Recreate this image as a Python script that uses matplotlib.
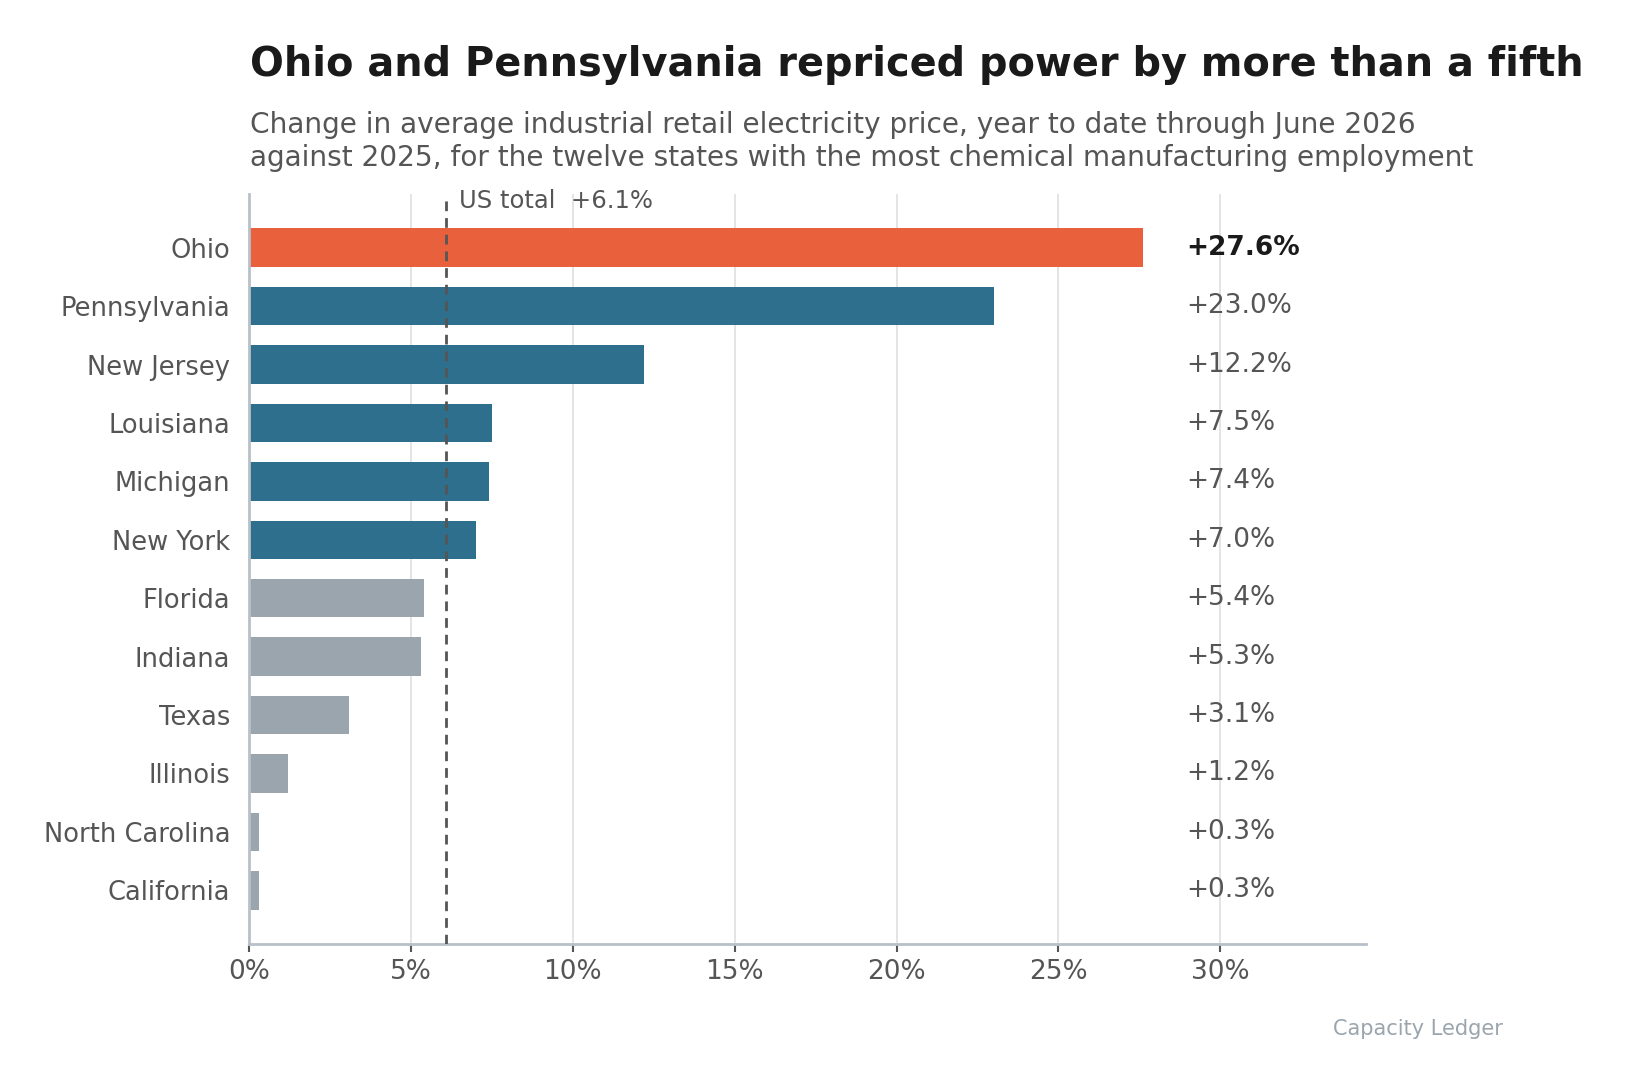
import matplotlib
matplotlib.use("Agg")
import matplotlib.pyplot as plt
from matplotlib.ticker import FuncFormatter

states = ["Ohio", "Pennsylvania", "New Jersey", "Louisiana", "Michigan", "New York",
          "Florida", "Indiana", "Texas", "Illinois", "North Carolina", "California"]
changes = [27.6, 23.0, 12.2, 7.5, 7.4, 7.0, 5.4, 5.3, 3.1, 1.2, 0.3, 0.3]
groups = ["top", "pjm", "pjm", "pjm", "pjm", "pjm",
          "other", "other", "other", "other", "other", "other"]
us_total = 6.1
x_ticks = [0, 5, 10, 15, 20, 25, 30]

title = "Ohio and Pennsylvania repriced power by more than a fifth"
subtitle_lines = ["Change in average industrial retail electricity price, year to date through June 2026",
                  "against 2025, for the twelve states with the most chemical manufacturing employment"]
source = "Capacity Ledger"

palette = {"top": "#E8603C", "pjm": "#2E6F8E", "other": "#9AA5AE"}
DARK = "#1a1a1a"
MID = "#555555"
LIGHT = "#9AA5AE"
SPINE = "#B8C0C9"

plt.rcParams["font.family"] = ["DejaVu Sans"]

fig = plt.figure(figsize=(16.28, 10.84), dpi=100)
ax = fig.add_axes([249 / 1628, 1 - 944 / 1084, (1366 - 249) / 1628, (944 - 194) / 1084])

ypos = list(range(len(states)))
ax.barh(ypos, changes, height=0.66, color=[palette[g] for g in groups], zorder=3)

ax.set_xlim(0, 34.5)
ax.set_ylim(len(states) - 1 + 0.92, -0.92)

ax.set_yticks(ypos)
ax.set_yticklabels(states)
ax.set_xticks(x_ticks)
ax.xaxis.set_major_formatter(FuncFormatter(lambda v, p: f"{v:.0f}%"))

ax.tick_params(axis="y", length=0, pad=13.5, labelsize=18.5, labelcolor=MID)
ax.tick_params(axis="x", length=6, width=1.5, color=MID, pad=5, labelsize=19, labelcolor=MID)

ax.grid(axis="x", color="#E2E2E2", linewidth=1.3, zorder=0)
ax.set_axisbelow(True)

for s in ["top", "right"]:
    ax.spines[s].set_visible(False)
for s in ["left", "bottom"]:
    ax.spines[s].set_color(SPINE)
    ax.spines[s].set_linewidth(2)
ax.spines["left"].set_zorder(4)

ax.axvline(us_total, color=MID, linestyle=(0, (3.5, 2.5)), linewidth=2, zorder=4)
ax.annotate(f"US total  +{us_total:.1f}%", xy=(us_total, 0.981), xycoords=("data", "axes fraction"),
            xytext=(9, 0), textcoords="offset points", fontsize=17.5, color=MID,
            ha="left", va="baseline")

for i, (v, g) in enumerate(zip(changes, groups)):
    ax.text(28.94, i, f"+{v:.1f}%", ha="left", va="center", fontsize=19,
            color=DARK if g == "top" else MID,
            fontweight="bold" if g == "top" else "normal")

fig.text(250 / 1628, 1 - 76 / 1084, title, fontsize=28.7, fontweight="bold", color=DARK,
         ha="left", va="baseline")
for line, base in zip(subtitle_lines, [133, 166]):
    fig.text(250 / 1628, 1 - base / 1084, line, fontsize=20.2, color=MID,
             ha="left", va="baseline")
fig.text(1503 / 1628, 1 - 1035 / 1084, source, fontsize=15, color=LIGHT,
         ha="right", va="baseline")

fig.savefig("out.png", dpi=100)
